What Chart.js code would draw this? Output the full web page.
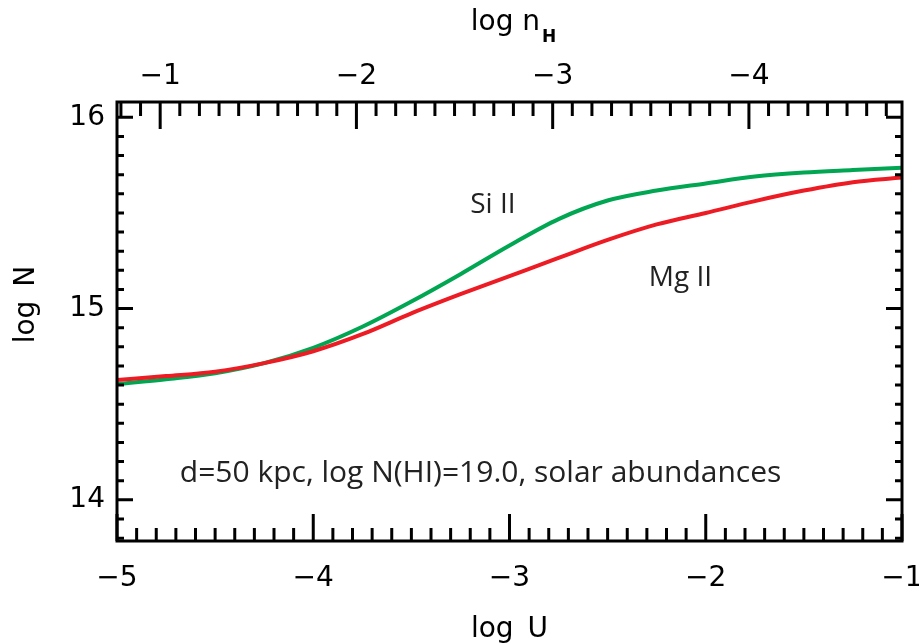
<!DOCTYPE html>
<html>
<head>
<meta charset="utf-8">
<script src="https://cdn.jsdelivr.net/npm/chart.js@4.4.0/dist/chart.umd.min.js"></script>
<style>
html, body { margin: 0; padding: 0; background: #fff; }
canvas { display: block; }
</style>
</head>
<body>
<canvas id="myChart" width="919" height="644"></canvas>
<script>
// values (log U grid, log N for each ion)
const logU = [-5, -4.75, -4.5, -4.25, -4, -3.75, -3.5, -3.25, -3, -2.75, -2.5, -2.25, -2, -1.75, -1.5, -1.25, -1];
const siII = [14.605, 14.631, 14.662, 14.715, 14.795, 14.905, 15.037, 15.180, 15.330, 15.468, 15.565, 15.617, 15.654, 15.690, 15.711, 15.724, 15.736];
const mgII = [14.626, 14.647, 14.670, 14.715, 14.777, 14.866, 14.975, 15.075, 15.170, 15.265, 15.359, 15.440, 15.500, 15.562, 15.617, 15.661, 15.685];

const uTicks = [-5, -4, -3, -2, -1];
const uTickLabels = ['\u22125', '\u22124', '\u22123', '\u22122', '\u22121'];
const nhTicks = [-1, -2, -3, -4];
const nhTickLabels = ['\u22121', '\u22122', '\u22123', '\u22124'];
const nTicks = [14, 15, 16];
const nTickLabels = ['14', '15', '16'];

const tickFont = { family: 'DejaVu Sans', size: 28 };
const titleFont = '28px "DejaVu Sans"';
const noteFont = '"Open Sans"';

function sized(w, h) {
    return function (s) {
        if (w !== null) s.width = w;
        if (h !== null) s.height = h;
        s.paddingLeft = 0; s.paddingRight = 0;
        s.paddingTop = 0; s.paddingBottom = 0;
    };
}
function setTicks(vals) {
    return function (s) { s.ticks = vals.map(v => ({ value: v })); };
}

const framePlugin = {
    id: 'frame',
    afterDatasetsDraw(chart) {
        const { ctx, chartArea: a, scales } = chart;
        ctx.save();
        ctx.strokeStyle = '#000';
        ctx.lineWidth = 3;
        ctx.beginPath();
        // inward ticks, minor every 0.1
        for (let k = 0; k <= 40; k++) {
            const px = scales.x.getPixelForValue(-5 + k / 10);
            ctx.moveTo(px, a.bottom);
            ctx.lineTo(px, a.bottom - (k % 10 === 0 ? 27 : 13));
        }
        for (let k = 8; k <= 47; k++) {
            const px = scales.x2.getPixelForValue(-k / 10);
            ctx.moveTo(px, a.top);
            ctx.lineTo(px, a.top + (k % 10 === 0 ? 27 : 14));
        }
        for (let k = 138; k <= 160; k++) {
            const major = k % 10 === 0;
            let py = scales.y.getPixelForValue(k / 10);
            ctx.moveTo(a.left, py);
            ctx.lineTo(a.left + (major ? 16 : 7), py);
            py = scales.y2.getPixelForValue(k / 10);
            ctx.moveTo(a.right, py);
            ctx.lineTo(a.right - (major ? 16 : 7), py);
        }
        ctx.stroke();
        ctx.strokeRect(a.left, a.top, a.right - a.left, a.bottom - a.top);
        ctx.restore();
    },
    afterDraw(chart) {
        const { ctx, chartArea: a, scales } = chart;
        const cx = (a.left + a.right) / 2;
        ctx.save();
        ctx.fillStyle = '#000';
        ctx.textBaseline = 'alphabetic';
        // axis titles
        ctx.font = titleFont;
        ctx.textAlign = 'center';
        ctx.fillText('log\u2002U', cx, 637);
        ctx.textAlign = 'left';
        const w1 = ctx.measureText('log n').width;
        ctx.font = 'bold 17px "DejaVu Sans"';
        const w2 = ctx.measureText('H').width;
        const x0 = cx + 4 - (w1 + 2 + w2) / 2;
        ctx.fillText('H', x0 + w1 + 2, 42);
        ctx.font = titleFont;
        ctx.fillText('log n', x0, 30);
        ctx.save();
        ctx.translate(34, (a.top + a.bottom) / 2 - 17);
        ctx.rotate(-Math.PI / 2);
        ctx.textAlign = 'center';
        ctx.fillText('log\u2002N', 0, 0);
        ctx.restore();
        // labels inside the plot
        ctx.fillStyle = '#222';
        ctx.textAlign = 'left';
        ctx.font = '28px ' + noteFont;
        ctx.fillText('Si II', scales.x.getPixelForValue(-3.2), scales.y.getPixelForValue(15.502));
        ctx.fillText('Mg II', scales.x.getPixelForValue(-2.29), scales.y.getPixelForValue(15.118));
        ctx.font = '30px ' + noteFont;
        ctx.fillText('d=50 kpc, log N(HI)=19.0, solar abundances',
            scales.x.getPixelForValue(-4.68), scales.y.getPixelForValue(14.094));
        ctx.restore();
    }
};

const ctx = document.getElementById('myChart');
const chart = new Chart(ctx, {
    type: 'line',
    data: {
        datasets: [
            {
                label: 'Mg II',
                data: logU.map((u, i) => ({ x: u, y: mgII[i] })),
                borderColor: '#ed1c24',
                borderWidth: 4,
                pointRadius: 0,
                fill: false,
                cubicInterpolationMode: 'monotone',
            },
            {
                label: 'Si II',
                data: logU.map((u, i) => ({ x: u, y: siII[i] })),
                borderColor: '#00a651',
                borderWidth: 4,
                pointRadius: 0,
                fill: false,
                cubicInterpolationMode: 'monotone',
            },
        ],
    },
    options: {
        responsive: false,
        animation: false,
        devicePixelRatio: 1,
        layout: { padding: 0 },
        scales: {
            x: {
                type: 'linear', position: 'bottom', min: -5, max: -1,
                grid: { display: false, drawTicks: false, tickLength: 0 },
                border: { display: false },
                afterBuildTicks: setTicks(uTicks),
                afterFit: sized(null, 103),
                ticks: {
                    font: tickFont, color: '#000', padding: 21, maxRotation: 0, autoSkip: false,
                    callback: v => uTickLabels[uTicks.indexOf(v)],
                },
            },
            x2: {
                type: 'linear', position: 'top', min: -4.78, max: -0.78, reverse: true,
                grid: { display: false, drawTicks: false, tickLength: 0 },
                border: { display: false },
                afterBuildTicks: setTicks(nhTicks),
                afterFit: sized(null, 102),
                ticks: {
                    font: tickFont, color: '#000', padding: 8, maxRotation: 0, autoSkip: false,
                    callback: v => nhTickLabels[nhTicks.indexOf(v)],
                },
            },
            y: {
                type: 'linear', position: 'left', min: 13.785, max: 16.08,
                grid: { display: false, drawTicks: false, tickLength: 0 },
                border: { display: false },
                afterBuildTicks: setTicks(nTicks),
                afterFit: sized(117, null),
                ticks: {
                    font: tickFont, color: '#000', padding: 12,
                    callback: v => nTickLabels[nTicks.indexOf(v)],
                },
            },
            y2: {
                type: 'linear', position: 'right', min: 13.785, max: 16.08, display: true,
                grid: { display: false, drawTicks: false, tickLength: 0 },
                border: { display: false },
                afterFit: sized(17, null),
                ticks: { display: false },
            },
        },
        plugins: {
            legend: { display: false },
            tooltip: { enabled: false },
        },
    },
    plugins: [framePlugin],
});
</script>
</body>
</html>
